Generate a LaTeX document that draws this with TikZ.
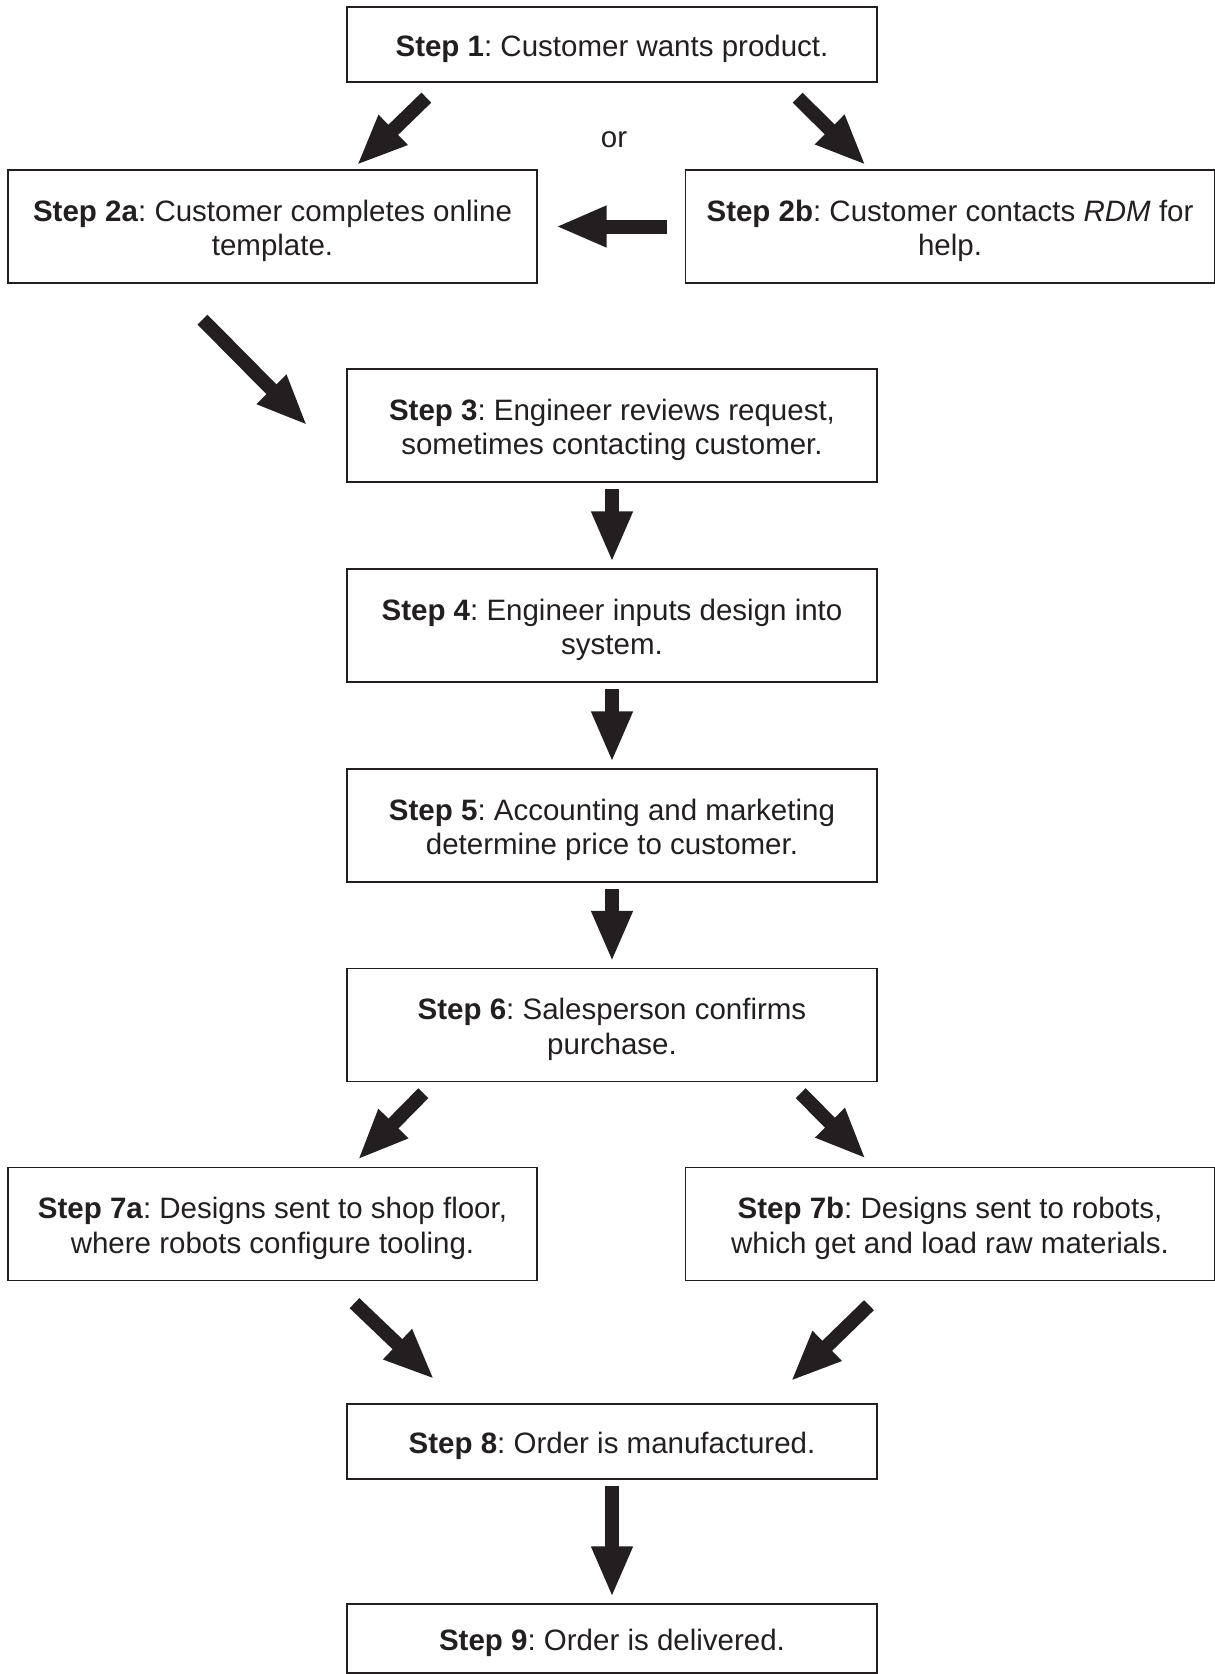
\documentclass[tikz,border=0pt]{standalone}
\usepackage{fontspec}
\setmainfont{Liberation Sans}
\usetikzlibrary{arrows.meta}
\definecolor{ink}{HTML}{231F20}
\frenchspacing
\newcommand\tp{\rule{0pt}{30pt}}
\begin{document}
\begin{tikzpicture}[x=1pt,y=-1pt,
  box/.style={draw=ink, line width=1.3pt, minimum width=530pt, inner sep=0pt, align=center, font=\fontsize{29.5}{34.5}\selectfont, text=ink},
  sidebox/.style={box, minimum width=529pt, minimum height=113pt},
  blk/.style={draw=ink, line width=14pt, -{Triangle[width=38pt,length=51pt]}}
]
\useasboundingbox (0,0) rectangle (1215,1674);
\node[box, minimum height=75pt] (b1) at (612,44.5) {\tp\textbf{Step 1}: Customer wants product.};
\node[sidebox] (b2a) at (272.5,226.5) {\tp\textbf{Step 2a}: Customer completes online\\template.};
\node[sidebox] (b2b) at (950,226.5) {\tp\textbf{Step 2b}: Customer contacts \textit{RDM} for\\help.};
\node[font=\fontsize{29.5}{34.5}\selectfont, text=ink] (or) at (614,140) {or};
\node[box, minimum height=113pt] (b3) at (612,425.5) {\tp\textbf{Step 3}: Engineer reviews request,\\sometimes contacting customer.};
\node[box, minimum height=113pt] (b4) at (612,625.5) {\tp\textbf{Step 4}: Engineer inputs design into\\system.};
\node[box, minimum height=113pt] (b5) at (612,825.5) {\tp\textbf{Step 5}: Accounting and marketing\\determine price to customer.};
\node[box, minimum height=113pt] (b6) at (612,1025) {\tp\textbf{Step 6}: Salesperson confirms\\purchase.};
\node[sidebox] (b7a) at (272.5,1224) {\tp\textbf{Step 7a}: Designs sent to shop floor,\\where robots configure tooling.};
\node[sidebox] (b7b) at (950,1224) {\tp\textbf{Step 7b}: Designs sent to robots,\\which get and load raw materials.};
\node[box, minimum height=75pt] (b8) at (612,1441.5) {\tp\textbf{Step 8}: Order is manufactured.};
\node[box, minimum height=69pt] (b9) at (612,1638.5) {\tp\textbf{Step 9}: Order is delivered.};

\draw[blk] ([shift={(80,15)}]b1.south west) -- ([shift={(-181,-4)}]b2a.north east);
\draw[blk] ([shift={(-80,15)}]b1.south east) -- ([shift={(181,-4)}]b2b.north west);
\draw[blk, shorten <=18pt, shorten >=18pt] (b2b.west) -- (b2a.east);
\draw[blk] ([shift={(-70,36)}]b2a.south) -- ([shift={(-39,0)}]b3.west);
\draw[blk, shorten <=6pt, shorten >=6pt] (b3.south) -- (b4.north);
\draw[blk, shorten <=6pt, shorten >=6pt] (b4.south) -- (b5.north);
\draw[blk, shorten <=6pt, shorten >=6pt] (b5.south) -- (b6.north);
\draw[blk] ([shift={(77,11)}]b6.south west) -- ([shift={(-180,-7)}]b7a.north east);
\draw[blk] ([shift={(-77,11)}]b6.south east) -- ([shift={(181,-8)}]b7b.north west);
\draw[blk] ([shift={(82,22)}]b7a.south) -- ([shift={(88,-24)}]b8.north west);
\draw[blk] ([shift={(-81,24)}]b7b.south) -- ([shift={(-87,-22)}]b8.north east);
\draw[blk, shorten <=6pt, shorten >=6pt] (b8.south) -- (b9.north);
\end{tikzpicture}
\end{document}
